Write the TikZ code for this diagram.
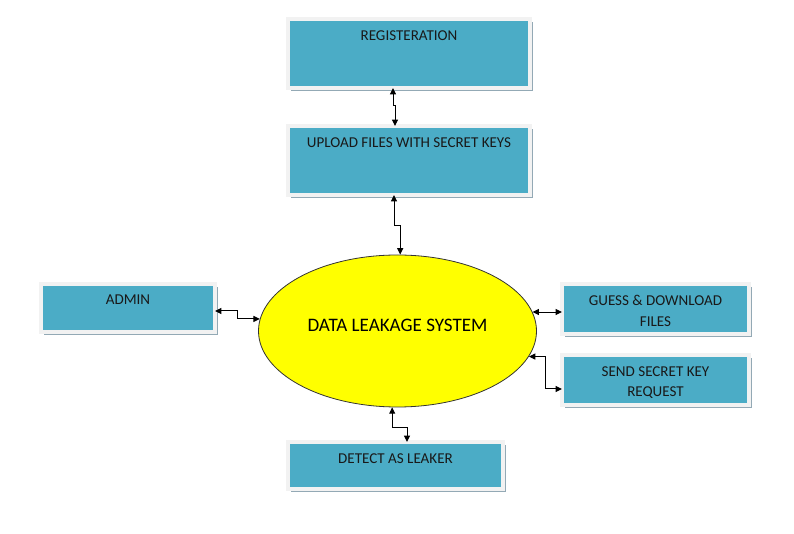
\documentclass[tikz,border=0pt]{standalone}
\usepackage{fontspec}
\setmainfont{Carlito}
\usetikzlibrary{positioning,arrows.meta,calc,shapes.geometric,shadows}
\definecolor{boxfill}{HTML}{4BACC6}
\definecolor{boxrim}{HTML}{F2F2F2}
\definecolor{boxshade}{HTML}{93A9B5}
\definecolor{sysfill}{HTML}{FFFF00}

\begin{document}
\begin{tikzpicture}[
    x=0.75pt, y=-0.75pt,
    box/.style={rectangle, fill=boxfill, draw=boxrim, line width=2.6pt, outer sep=0pt, inner sep=0pt,
        drop shadow={shadow xshift=2.4pt, shadow yshift=-2.4pt, fill=boxshade, opacity=1}},
    boxtext/.style={font=\fontsize{11.3}{15.5}\selectfont, align=center, anchor=north, inner sep=0pt, yshift=-8.3pt, text=black!90},
    sys/.style={ellipse, fill=sysfill, draw=black!80, line width=0.6pt, inner sep=0pt,
        minimum width=208.5pt, minimum height=114pt, text depth=9pt, font=\fontsize{14.3}{17}\selectfont},
    arr/.style={{Triangle[length=4.8pt,width=4.5pt]}-{Triangle[length=4.8pt,width=4.5pt]}, line width=0.75pt},
]
\useasboundingbox (0,0) rectangle (794,534);

% Central process
\node[sys] (sys) at (397.5,331) {DATA LEAKAGE SYSTEM};

% Upper boxes
\node[box, minimum width=181.5pt, minimum height=51.75pt, label={[boxtext]north:REGISTERATION}] (reg) at (409,53.5) {};
\node[box, minimum width=181.5pt, minimum height=51.75pt, label={[boxtext]north:UPLOAD FILES WITH SECRET KEYS}] (upload) at (409,160.5) {};

% Side boxes
\node[box, minimum width=130.5pt, minimum height=36pt, label={[boxtext]north:ADMIN}] (admin) at (128,308) {};
\node[box, minimum width=140.25pt, minimum height=37.5pt, label={[boxtext]north:GUESS \& DOWNLOAD\\FILES}] (guess) at (655.5,309) {};
\node[box, minimum width=140.25pt, minimum height=37.5pt, label={[boxtext]north:SEND SECRET KEY\\REQUEST}] (send) at (655.5,380) {};

% Lower box
\node[box, minimum width=161.25pt, minimum height=35.25pt, label={[boxtext]north:DETECT AS LEAKER}] (detect) at (395.5,465.5) {};

% Arrows
\draw[arr] ($(reg.south)+(-16,0)$) -- ++(0,18) -| ($(upload.north)+(-14,0)$);
\draw[arr] ($(upload.south)+(-15,0)$) -- ++(0,31) -| (sys.88.9);
\draw[arr] ($(admin.east)+(0,3)$) -- ++(22,0) |- (sys.175);
\draw[arr] (sys.8.5) -- (sys.8.5 -| guess.west);
\draw[arr] (sys.-11.3) -| ($(send.west)+(-17,9)$) -- ($(send.west)+(0,9)$);
\draw[arr] (sys.266.6) -- ++(0,20) -| ($(detect.north)+(11.5,0)$);
\end{tikzpicture}
\end{document}
